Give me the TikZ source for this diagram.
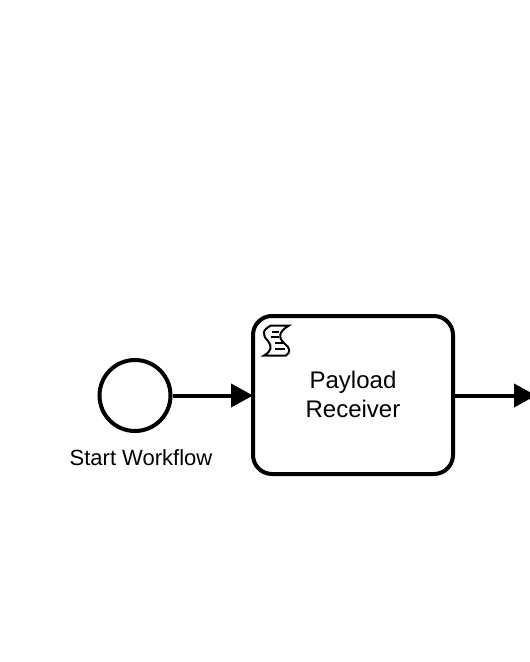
\documentclass[tikz,border=0pt]{standalone}
\usepackage{fontspec}
\setmainfont{Liberation Sans}
\usetikzlibrary{arrows.meta, positioning}

\begin{document}
\begin{tikzpicture}[
  x=1pt, y=-1pt,
  event/.style={circle, draw, line width=4pt, minimum size=71pt, inner sep=0pt},
  task/.style={rectangle, rounded corners=19pt, draw, line width=4pt, align=center,
               font=\fontsize{24}{29}\selectfont, text depth=2pt,
               minimum width=200pt, minimum height=158pt},
  flow/.style={-{Triangle[length=22pt, width=23pt]}, line width=4pt}
]
  \clip (0,0) rectangle (530,662);

  % Start event
  \node[event] (start) at (135,395.5) {};
  \node[font=\fontsize{22}{26}\selectfont] (startlabel) at (141,458) {Start Workflow};

  % Script task
  \node[task] (receiver) at (353,395) {Payload\\Receiver};
  \coordinate (out) at (536,395.5);

  % Script icon
  \draw[line width=2pt, line join=miter]
    (271,325.5) -- (289,325.5) .. controls (278,332) and (278,338) .. (285,344)
    .. controls (290,348) and (291,352) .. (286,355.5) -- (264,355.5)
    .. controls (272,351) and (272,346) .. (268,341)
    .. controls (262,335) and (262,330) .. (271,325.5) -- cycle;
  \draw[line width=2pt]
    (272,332) -- (279,332) (271,337) -- (279,337)
    (275,343) -- (284,343) (275,349) -- (285,349);

  % Arrows
  \draw[flow] (start) -- ([xshift=2pt]receiver.west |- start);
  \draw[flow] (receiver.east |- out) -- (out);
\end{tikzpicture}
\end{document}
